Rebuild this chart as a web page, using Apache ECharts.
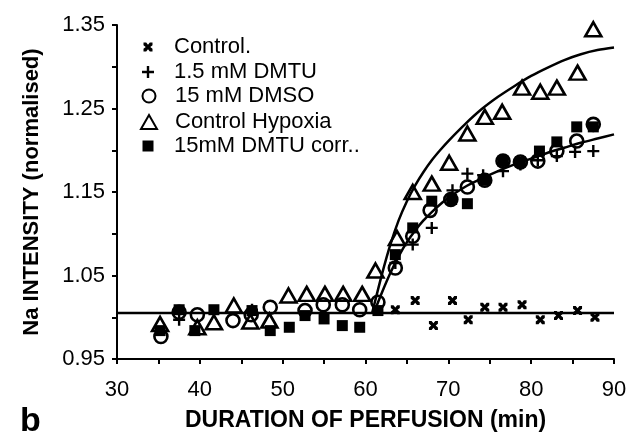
<!DOCTYPE html>
<html>
<head>
<meta charset="utf-8">
<script src="https://cdn.jsdelivr.net/npm/echarts@6/dist/echarts.min.js"></script>
<style>
  html, body { margin: 0; padding: 0; background: #fff; }
  #chart { width: 637px; height: 437px; }
</style>
</head>
<body>
<div id="chart"></div>
<script>
// values: minutes of perfusion and normalised Na intensity
const controlX = [63.6, 66.0, 68.2, 70.5, 72.4, 74.4, 76.6, 78.9, 81.1, 83.3, 85.6, 87.7];
const controlY = [1.009, 1.020, 0.990, 1.020, 0.997, 1.012, 1.012, 1.015, 0.997, 1.002, 1.008, 1.000];

const dmtuX = [37.5, 46.3, 63.6, 65.7, 68.0, 70.5, 72.3, 74.2, 76.6, 78.7, 80.8, 83.1, 85.3, 87.5];
const dmtuY = [0.997, 1.009, 1.065, 1.087, 1.107, 1.152, 1.172, 1.170, 1.175, 1.183, 1.188, 1.193, 1.198, 1.199];

const dmsoX = [35.3, 37.5, 39.7, 44.0, 46.2, 48.5, 52.7, 54.9, 57.2, 59.3, 61.5, 63.6, 65.7, 67.8, 70.3, 72.3, 74.4, 76.6, 78.7, 80.8, 83.1, 85.5, 87.5];
const dmsoY = [0.977, 1.006, 1.003, 0.996, 1.003, 1.012, 1.008, 1.015, 1.015, 1.009, 1.018, 1.059, 1.097, 1.128, 1.141, 1.156, 1.164, 1.187, 1.186, 1.187, 1.199, 1.211, 1.231];

const hypoxiaX = [35.2, 39.7, 41.7, 44.1, 46.1, 48.4, 50.7, 52.9, 55.1, 57.3, 59.6, 61.2, 63.8, 65.7, 68.0, 70.1, 72.3, 74.4, 76.5, 78.9, 81.1, 83.1, 85.6, 87.5];
const hypoxiaY = [0.992, 0.988, 0.994, 1.014, 0.995, 0.996, 1.026, 1.028, 1.028, 1.028, 1.028, 1.056, 1.095, 1.150, 1.160, 1.185, 1.220, 1.240, 1.246, 1.275, 1.270, 1.275, 1.293, 1.345];

const dmtuCorrX = [35.2, 37.5, 39.4, 41.7, 46.3, 48.5, 50.8, 52.7, 55.0, 57.2, 59.3, 61.5, 63.6, 65.7, 68.0, 70.4, 72.3, 74.4, 76.6, 78.7, 81.0, 83.1, 85.5, 87.5];
const dmtuCorrY = [0.984, 1.009, 0.984, 1.009, 1.008, 0.984, 0.988, 1.002, 0.998, 0.990, 0.988, 1.008, 1.075, 1.107, 1.139, 1.141, 1.136, 1.164, 1.187, 1.186, 1.199, 1.210, 1.228, 1.228];

// fitted curves
const baseFitX = [30, 90];
const baseFitY = [1.005, 1.005];
const upperFitX = [60.8, 62, 63, 64, 65, 66, 67, 68, 69, 70, 72, 74, 76, 78, 80, 82, 84, 86, 88, 90];
const upperFitY = [1.005, 1.052, 1.087, 1.116, 1.139, 1.158, 1.174, 1.188, 1.200, 1.211, 1.231, 1.249, 1.264, 1.277, 1.289, 1.299, 1.308, 1.315, 1.320, 1.323];
const lowerFitX = [61, 62, 63, 64, 65, 66, 67, 68, 69, 70, 72, 74, 76, 78, 80, 82, 84, 86, 88, 90];
const lowerFitY = [1.005, 1.030, 1.053, 1.073, 1.090, 1.104, 1.116, 1.126, 1.135, 1.143, 1.156, 1.166, 1.175, 1.183, 1.190, 1.197, 1.203, 1.209, 1.214, 1.219];

const legendNames = ["Control.", "1.5 mM DMTU", "15 mM DMSO", "Control Hypoxia", "15mM DMTU corr.."];
const xTicks = [30, 40, 50, 60, 70, 80, 90];
const yTicks = ["0.95", "1.05", "1.15", "1.25", "1.35"];

const FONT = "Liberation Sans, Arial, sans-serif";
const crossPath = "path://M0,0 L3,0 L5,2.5 L7,0 L10,0 L10,3 L7.5,5 L10,7 L10,10 L7,10 L5,7.5 L3,10 L0,10 L0,7 L2.5,5 L0,3 Z";
const plusPath = "path://M4,0 L6,0 L6,4 L10,4 L10,6 L6,6 L6,10 L4,10 L4,6 L0,6 L0,4 L4,4 Z";

function pairs(xs, ys) {
  return xs.map((x, i) => [x, ys[i]]);
}

const symbols = [
  { symbol: crossPath, size: [9, 9], style: { color: "#000", opacity: 1 } },
  { symbol: plusPath, size: [12, 12], style: { color: "#000", opacity: 1 } },
  { symbol: "circle", size: [13, 13], style: { color: "rgba(0,0,0,0)", borderColor: "#000", borderWidth: 2.6, opacity: 1 } },
  { symbol: "triangle", size: [16, 14], style: { color: "rgba(0,0,0,0)", borderColor: "#000", borderWidth: 2.6, opacity: 1 } },
  { symbol: "rect", size: [11, 11], style: { color: "#000", opacity: 1 } },
];
const rows = [42, 67, 91, 117, 141];
const seriesData = [
  pairs(controlX, controlY),
  pairs(dmtuX, dmtuY),
  pairs(dmsoX, dmsoY),
  pairs(hypoxiaX, hypoxiaY),
  pairs(dmtuCorrX, dmtuCorrY),
];
const zOrder = [6, 5, 4, 3, 5];

const chart = echarts.init(document.getElementById("chart"));

const scatterSeries = legendNames.map((name, i) => ({
  name: name,
  type: "scatter",
  symbol: symbols[i].symbol,
  symbolSize: symbols[i].size,
  itemStyle: symbols[i].style,
  z: zOrder[i],
  data: seriesData[i],
}));

const fitLine = (xs, ys) => ({
  type: "line",
  data: pairs(xs, ys),
  showSymbol: false,
  smooth: 0.3,
  lineStyle: { color: "#000", width: 2.5 },
  z: 2,
  silent: true,
});

const legends = legendNames.map((name, i) => {
  const w = symbols[i].size[0];
  return {
    data: [name],
    left: 143 - w / 2,
    top: rows[i] - 11,
    itemWidth: w,
    itemHeight: symbols[i].size[1],
    selectedMode: false,
    textStyle: {
      fontFamily: FONT,
      fontSize: 22,
      lineHeight: 22,
      color: "#000",
      padding: [0, 0, 0, 174 - (143 + w / 2) - 10],
    },
  };
});

chart.setOption({
  animation: false,
  grid: { left: 117, right: 23, top: 25, bottom: 75 },
  legend: legends,
  xAxis: {
    type: "value",
    min: 30,
    max: 90,
    interval: 5,
    name: "DURATION OF PERFUSION (min)",
    nameLocation: "middle",
    nameGap: 50,
    nameTextStyle: { fontFamily: FONT, fontSize: 23, fontWeight: "bold", color: "#000" },
    axisLine: { lineStyle: { color: "#000", width: 2 } },
    axisTick: { length: 5, lineStyle: { color: "#000", width: 2 } },
    splitLine: { show: false },
    axisLabel: {
      fontFamily: FONT,
      fontSize: 22,
      color: "#000",
      margin: 20,
      formatter: (v) => (xTicks.indexOf(v) >= 0 ? String(v) : ""),
    },
  },
  yAxis: {
    type: "value",
    min: 0.95,
    max: 1.35,
    interval: 0.05,
    name: "Na INTENSITY (normalised)",
    nameLocation: "middle",
    nameGap: 74,
    nameTextStyle: { fontFamily: FONT, fontSize: 22, fontWeight: "bold", color: "#000" },
    axisLine: { show: true, lineStyle: { color: "#000", width: 2 } },
    axisTick: { show: true, length: 5, lineStyle: { color: "#000", width: 2 } },
    splitLine: { show: false },
    axisLabel: {
      fontFamily: FONT,
      fontSize: 22,
      color: "#000",
      margin: 12,
      formatter: (v) => {
        const s = v.toFixed(2);
        return yTicks.indexOf(s) >= 0 ? s : "";
      },
    },
  },
  graphic: [
    {
      type: "text",
      left: 20,
      top: 405,
      style: { text: "b", font: "bold 34px " + FONT, fill: "#000" },
    },
  ],
  series: [
    fitLine(baseFitX, baseFitY),
    fitLine(upperFitX, upperFitY),
    fitLine(lowerFitX, lowerFitY),
  ].concat(scatterSeries),
});
</script>
</body>
</html>
